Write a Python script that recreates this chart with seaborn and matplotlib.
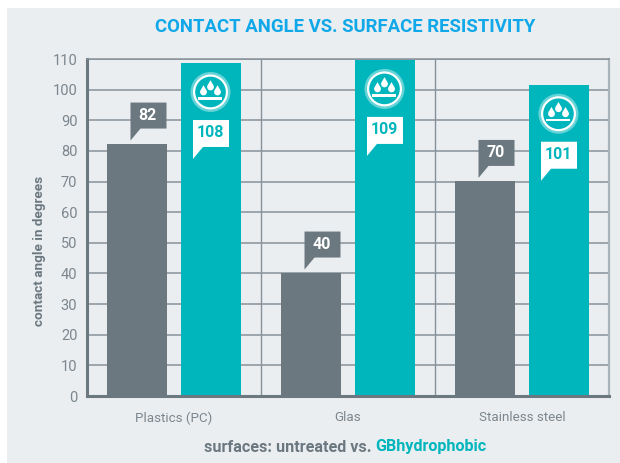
import pandas as pd
import numpy as np
import matplotlib
matplotlib.use("Agg")
import matplotlib.pyplot as plt
import matplotlib.patches as mpatches
from matplotlib.transforms import Affine2D
import seaborn as sns

# Data
surfaces = ["Plastics (PC)", "Glas", "Stainless steel"]
untreated = [82.4, 40.3, 70.2]
treated = [108.7, 109.7, 101.6]
untreated_labels = ["82", "40", "70"]
treated_labels = ["108", "109", "101"]
y_ticks = list(range(0, 111, 10))

GRAY = "#6c7880"
TEAL = "#00b6bd"
PANEL = "#eaeef1"
GRID = "#87919a"
TICK_TEXT = "#7c868d"
BLUE = "#10a8e8"

df = pd.DataFrame({"surface": surfaces, "untreated": untreated, "treated": treated})
df = df.melt(id_vars="surface", var_name="kind", value_name="angle")

sns.set_theme(style="white")
plt.rcParams["font.family"] = ["Roboto", "DejaVu Sans"]

fig = plt.figure(figsize=(6.2, 4.63), dpi=100, facecolor="white")
W, H = 620, 463
fig.patches.append(mpatches.Rectangle((7 / W, 0), 1, 1 - 8 / H, transform=fig.transFigure,
                                      facecolor=PANEL, edgecolor="none", zorder=-10))

ax = fig.add_axes([87 / W, (H - 396) / H, (609 - 87) / W, (396 - 59) / H])
ax.patch.set_alpha(0)

sns.barplot(data=df, x="surface", y="angle", hue="kind", palette=[GRAY, TEAL],
            hue_order=["untreated", "treated"], width=0.862, gap=0.2, saturation=1,
            linewidth=0, edgecolor="none", legend=False, ax=ax)

ax.set_xlim(-0.5, 2.5)
ax.set_ylim(0, 110)
ax.set_yticks(y_ticks)
ax.set_axisbelow(True)
ax.yaxis.grid(True, color=GRID, lw=1.1)
ax.set_xticks([0.5, 1.5], minor=True)
ax.xaxis.grid(True, which="minor", color=GRID, lw=1.0)
ax.tick_params(axis="both", which="both", length=0)
ax.tick_params(axis="y", labelsize=10.5, labelcolor=TICK_TEXT, pad=7)
ax.tick_params(axis="x", labelsize=9.6, labelcolor=TICK_TEXT, pad=11)

ax.set_xlabel("")
ax.set_ylabel("contact angle in degrees", fontsize=9.7, fontweight="bold", color=GRAY)
ax.yaxis.set_label_coords(-0.078, 0.43)

for side in ["left", "bottom"]:
    ax.spines[side].set_color(GRAY)
    ax.spines[side].set_linewidth(2.2)
ax.spines["top"].set_color(GRID)
ax.spines["top"].set_linewidth(1.1)
ax.spines["right"].set_color("#a9b3ba")
ax.spines["right"].set_linewidth(1.6)
for s in ax.spines.values():
    s.set_visible(True)


# pixel offsets from a bar top, y pointing down
def at_bar(x, v):
    px, py = ax.transData.transform((x, v))
    return Affine2D().scale(1, -1).translate(px, py)


def add(patch):
    patch.set_clip_on(False)
    patch.set_zorder(5)
    ax.add_patch(patch)


def callout(x, v, left, right, top, bottom, tip, color):
    tr = at_bar(x, v)
    pts = [(left, top), (right, top), (right, bottom), (left + 10, bottom), (left, tip)]
    add(mpatches.Polygon(pts, closed=True, facecolor=color, edgecolor="none", transform=tr))


def drop(tr, cx, cy, r):
    add(mpatches.Circle((cx, cy), r, facecolor="white", edgecolor="none", transform=tr))
    add(mpatches.Polygon([(cx - r * 0.85, cy - r * 0.5), (cx, cy - r * 2.0), (cx + r * 0.85, cy - r * 0.5)],
                         facecolor="white", edgecolor="none", transform=tr))


def icon(x, v):
    tr = at_bar(x, v)
    add(mpatches.Circle((-1, 29), 20, facecolor="#66d3d7", edgecolor="none", transform=tr))
    add(mpatches.Circle((-1, 29), 17.5, facecolor="white", edgecolor="none", transform=tr))
    add(mpatches.Circle((-1, 29), 15.3, facecolor=TEAL, edgecolor="none", transform=tr))
    drop(tr, -8, 29, 3.4)
    drop(tr, -1, 24, 3.4)
    drop(tr, 6, 29, 3.4)
    add(mpatches.Rectangle((-13, 34.5), 24, 2.2, facecolor="white", edgecolor="none", transform=tr))


def bar_label(x, v, dx, dy, text, color):
    px, py = ax.transData.transform((x, v))
    fig.text((px + dx) / W, (py - dy) / H, text, color=color, fontsize=11.5, fontweight="bold",
             ha="center", va="center", zorder=6)


gray_bars, teal_bars = ax.containers
for bar, lab in zip(gray_bars, untreated_labels):
    x = bar.get_x() + bar.get_width() / 2
    v = bar.get_height()
    callout(x, v, -6, 30, -41, -15, -3, GRAY)
    bar_label(x, v, 11, -28, lab, "white")
for bar, lab in zip(teal_bars, treated_labels):
    x = bar.get_x() + bar.get_width() / 2
    v = bar.get_height()
    icon(x, v)
    callout(x, v, -18.5, 17.5, 57, 84, 96, "white")
    bar_label(x, v, -1, 70, lab, TEAL)

fig.text(345.5 / W, (H - 27) / H, "CONTACT ANGLE VS. SURFACE RESISTIVITY", color=BLUE, fontsize=13.4,
         fontweight="bold", ha="center", va="center")

t1 = fig.text(204 / W, (H - 447) / H, "surfaces: untreated vs. ", color=GRAY, fontsize=11.6,
              fontweight="bold", ha="left", va="center")
ax.annotate("GBhydrophobic", xy=(1, 0), xycoords=t1, color=TEAL, fontsize=11.6, fontweight="bold",
            ha="left", va="bottom", annotation_clip=False)

fig.savefig("out.png", dpi=100)
